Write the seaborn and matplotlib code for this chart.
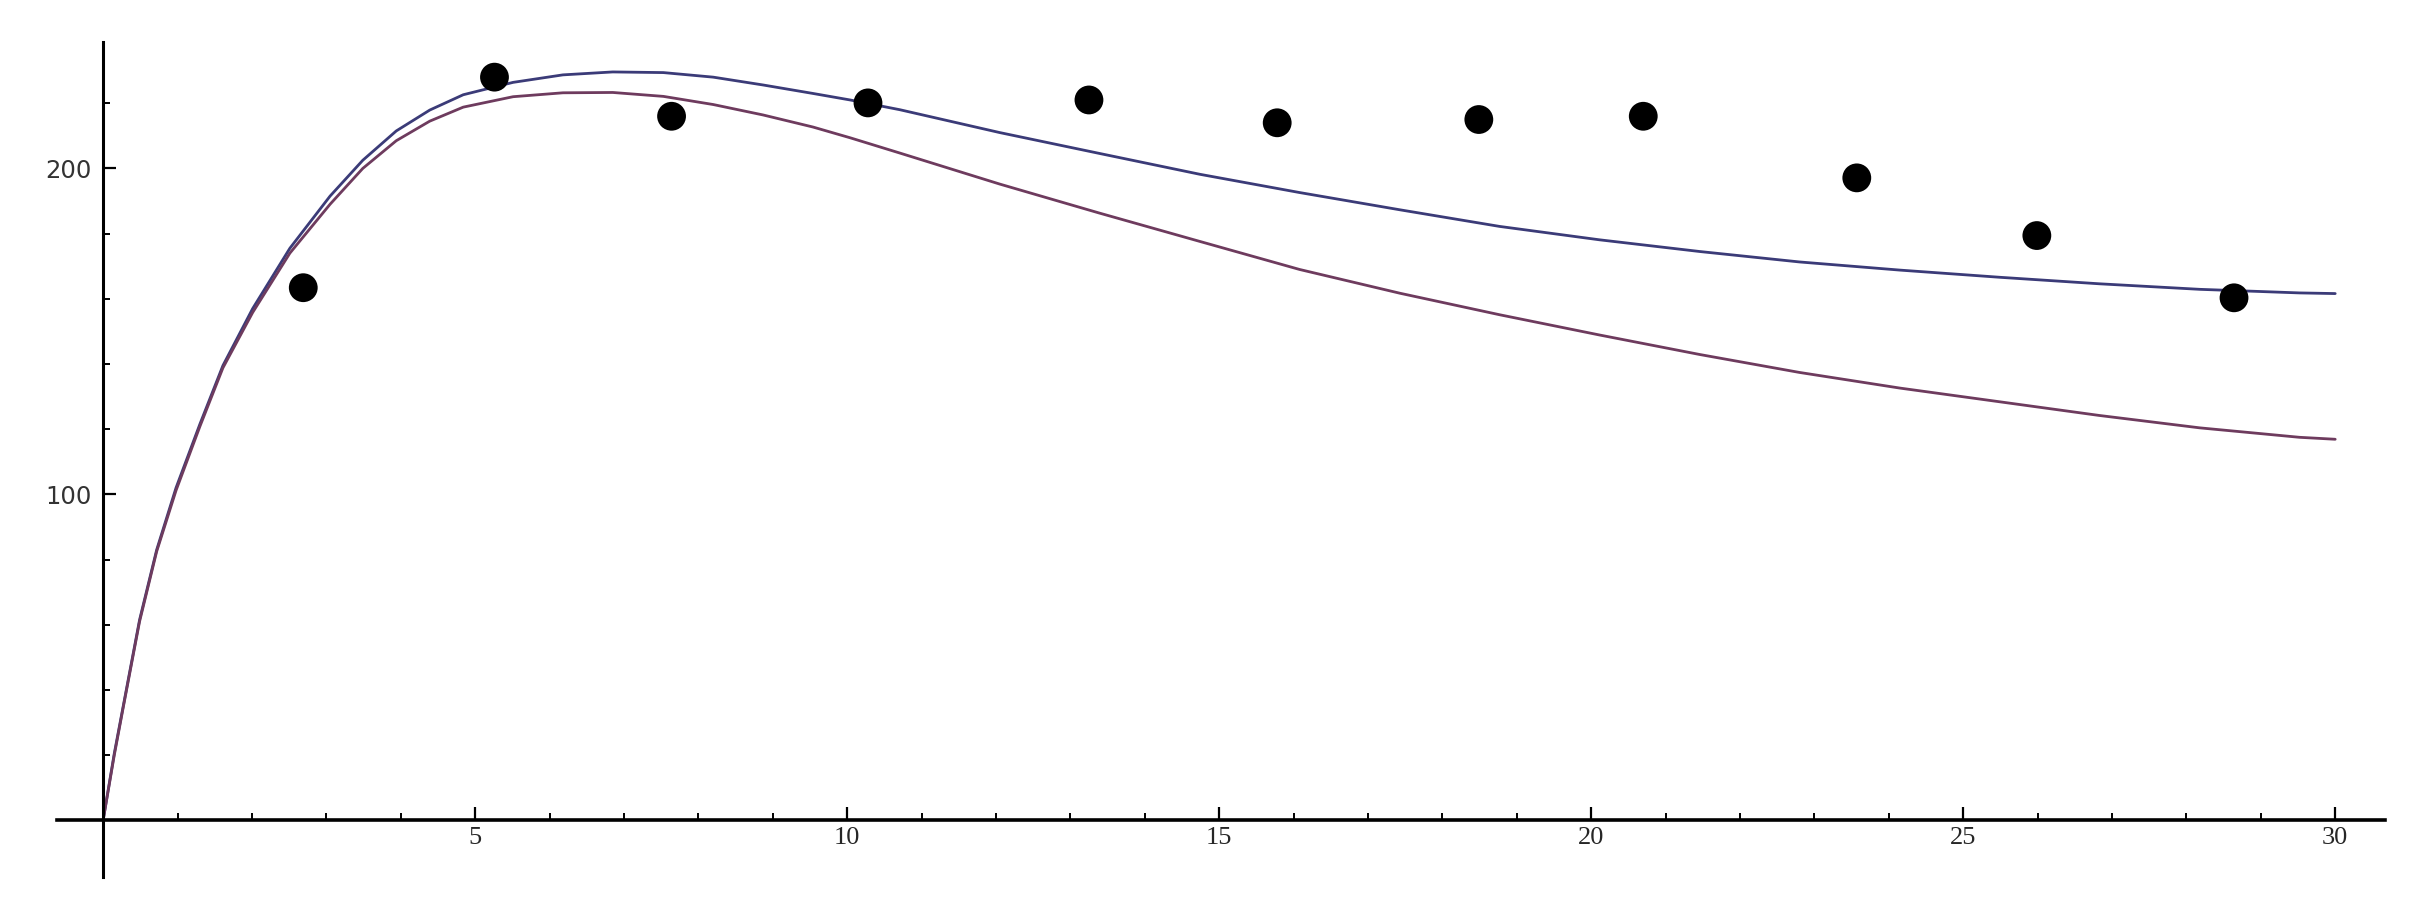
import matplotlib
matplotlib.use("Agg")
import matplotlib.pyplot as plt
import seaborn as sns

# observed points
obs_t = [2.69, 5.26, 7.64, 10.28, 13.25, 15.78, 18.49, 20.70, 23.57, 25.99, 28.64]
obs_y = [163.4, 228.0, 216.0, 220.1, 221.0, 214.0, 215.0, 216.0, 197.1, 179.4, 160.3]

# upper fitted curve
fit_a_t = [0, 0.15, 0.27, 0.49, 0.72, 0.98, 1.30, 1.61, 2.01, 2.51, 3.05, 3.49, 3.94,
           4.39, 4.84, 5.51, 6.18, 6.85, 7.53, 8.20, 8.87, 9.54, 10.04, 10.71, 12.05,
           13.39, 14.74, 16.08, 17.43, 18.77, 20.11, 21.46, 22.80, 24.15, 25.49, 26.83,
           28.18, 29.52, 30.0]
fit_a_y = [0, 20.5, 35.0, 61.5, 83.0, 102.0, 121.5, 139.5, 157.0, 175.5, 191.5, 202.5, 211.5,
           217.9, 222.6, 226.4, 228.7, 229.6, 229.4, 228.0, 225.6, 223.0, 221.0, 218.0, 211.0,
           204.6, 198.2, 192.6, 187.3, 182.2, 178.1, 174.5, 171.3, 168.8, 166.6, 164.6,
           162.9, 161.8, 161.6]

# lower fitted curve
fit_b_t = [0, 0.15, 0.27, 0.49, 0.72, 0.98, 1.30, 1.61, 2.01, 2.51, 3.05, 3.49, 3.94,
           4.39, 4.84, 5.51, 6.18, 6.85, 7.53, 8.20, 8.87, 9.54, 10.04, 10.71, 12.05,
           13.39, 14.74, 16.08, 17.43, 18.77, 20.11, 21.46, 22.80, 24.15, 25.49, 26.83,
           28.18, 29.52, 30.0]
fit_b_y = [0, 20.0, 34.6, 61.0, 82.5, 101.2, 120.8, 138.8, 155.8, 174.0, 189.0, 200.0, 208.5,
           214.5, 218.8, 222.0, 223.2, 223.3, 222.1, 219.6, 216.4, 212.7, 209.4, 204.7, 195.2,
           186.3, 177.6, 169.0, 161.7, 155.1, 148.9, 142.9, 137.4, 132.6, 128.4, 124.2,
           120.4, 117.5, 116.9]

x_major = [5, 10, 15, 20, 25, 30]
x_minor = [t for t in range(1, 30) if t % 5 != 0]
y_major = [100, 200]
y_minor = [20, 40, 60, 80, 120, 140, 160, 180, 220]

sns.set_style("white")

fig = plt.figure(figsize=(24.15, 9.14), dpi=100)
ax = fig.add_axes([0.0236, 0.0405, 0.9640, 0.9136])

sns.lineplot(x=fit_a_t, y=fit_a_y, ax=ax, color="#3b3b78", linewidth=2.0,
             sort=False, estimator=None, zorder=2)
sns.lineplot(x=fit_b_t, y=fit_b_y, ax=ax, color="#6e3b5e", linewidth=2.0,
             sort=False, estimator=None, zorder=2)
for ln in ax.lines:
    ln.set_solid_joinstyle("round")
sns.scatterplot(x=obs_t, y=obs_y, ax=ax, color="black", s=430, edgecolor="none", zorder=3)

ax.set_xlim(-0.62, 30.67)
ax.set_ylim(-17.4, 238.8)

for side in ["top", "right"]:
    ax.spines[side].set_visible(False)
ax.spines["left"].set_position(("data", 0))
ax.spines["bottom"].set_position(("data", 0))
ax.spines["left"].set_linewidth(2.2)
ax.spines["bottom"].set_linewidth(2.6)
for side in ["left", "bottom"]:
    ax.spines[side].set_color("black")

ax.set_xticks(x_major)
ax.set_xticks(x_minor, minor=True)
ax.set_yticks(y_major)
ax.set_yticks(y_minor, minor=True)
ax.set_xticklabels([str(v) for v in x_major], fontfamily="Liberation Serif", fontsize=19)
ax.set_yticklabels([str(v) for v in y_major], fontfamily="DejaVu Sans", fontsize=17.5, color="#333333")

ax.tick_params(which="both", bottom=True, left=True, top=False, right=False)
ax.tick_params(which="major", direction="in", length=9.5, width=1.6, color="black")
ax.tick_params(which="minor", direction="in", length=5, width=1.4, color="black")
ax.tick_params(axis="x", which="major", pad=5)
ax.tick_params(axis="y", which="major", pad=8)

ax.set_xlabel("")
ax.set_ylabel("")
ax.grid(False)

fig.savefig("out.png", dpi=100, facecolor="white")
